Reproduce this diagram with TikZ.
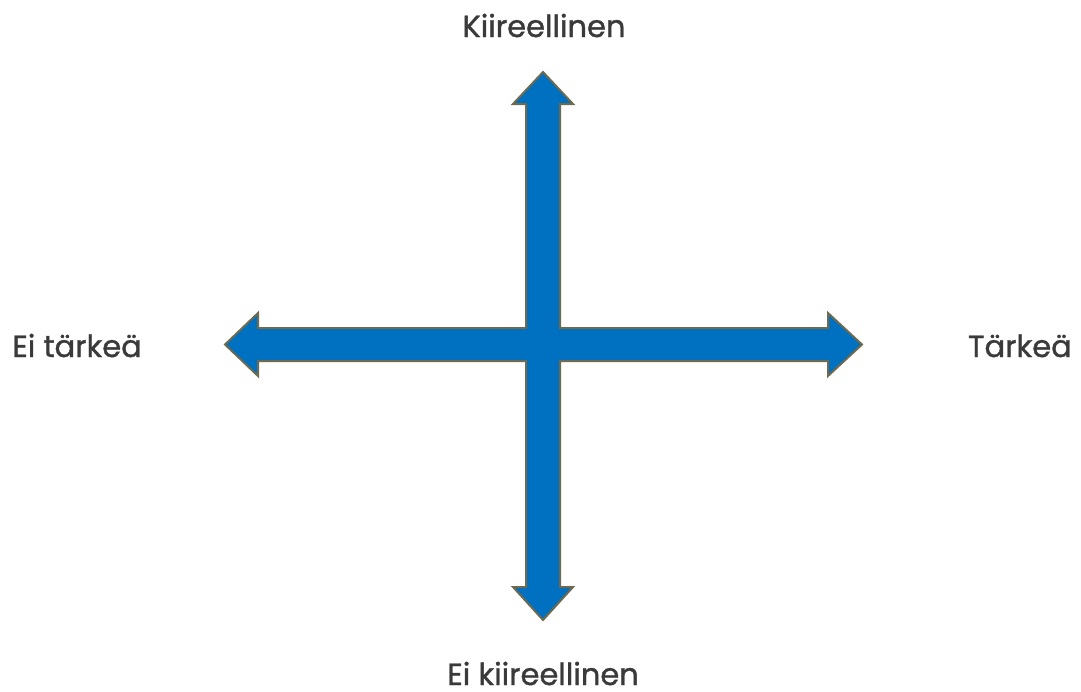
\documentclass[tikz,border=0pt]{standalone}
\usepackage{fontspec}
\setmainfont{Poppins}
\newfontfamily\lblfont{Poppins}[FakeBold=1.2]
\definecolor{arrowfill}{HTML}{0070C0}
\definecolor{arrowedge}{HTML}{6E6A50}
\definecolor{labeltext}{HTML}{3A3A3A}
\begin{document}
\begin{tikzpicture}[x=1pt,y=-1pt,
  lbl/.style={text=labeltext,font=\lblfont\fontsize{30.5}{34}\selectfont,inner sep=0pt,text depth=0pt},
  crossarrow/.style={fill=arrowfill,draw=arrowedge,line width=2pt,line join=miter}]
\useasboundingbox (0,0) rectangle (1081,691);
\draw[crossarrow] (543,72) -- (573,104) -- (560,104) -- (560,328) -- (828,328) -- (828,313)
  -- (862,344.5) -- (828,376) -- (828,361) -- (560,361) -- (560,587) -- (573,587)
  -- (543,620) -- (513,587) -- (526,587) -- (526,361) -- (258,361) -- (258,376)
  -- (225,344.5) -- (258,313) -- (258,328) -- (526,328) -- (526,104) -- (513,104) -- cycle;
\node[lbl,anchor=base] (top) at (544,37) {Kiireellinen};
\node[lbl,anchor=base] (bottom) at (543,685) {Ei kiireellinen};
\node[lbl,anchor=base west] (left) at (12,357) {Ei tärkeä};
\node[lbl,anchor=base east] (right) at (1072,357) {Tärkeä};
\end{tikzpicture}
\end{document}
